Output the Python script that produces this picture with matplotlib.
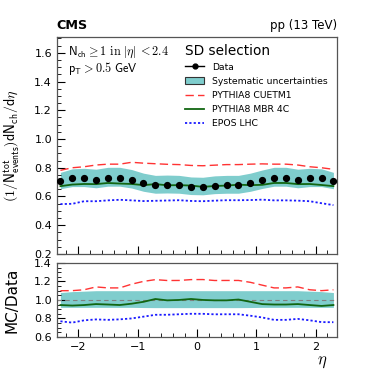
import numpy as np
import matplotlib
matplotlib.use("Agg")
import matplotlib.pyplot as plt
from matplotlib.lines import Line2D
from matplotlib.patches import Patch
from matplotlib.ticker import MultipleLocator

plt.rcParams['mathtext.fontset'] = 'cm'
plt.rcParams['font.family'] = ['DejaVu Sans']

eta = [-2.3, -2.1, -1.9, -1.7, -1.5, -1.3, -1.1, -0.9, -0.7, -0.5, -0.3, -0.1,
       0.1, 0.3, 0.5, 0.7, 0.9, 1.1, 1.3, 1.5, 1.7, 1.9, 2.1, 2.3]
data = [0.711, 0.727, 0.727, 0.718, 0.730, 0.730, 0.716, 0.693, 0.679, 0.681, 0.679, 0.669,
        0.667, 0.676, 0.679, 0.679, 0.693, 0.713, 0.730, 0.730, 0.718, 0.727, 0.727, 0.711]
syst_up = [1.08, 1.09, 1.095, 1.10, 1.10, 1.10, 1.10, 1.10, 1.10, 1.10, 1.10, 1.10,
           1.10, 1.10, 1.10, 1.10, 1.10, 1.10, 1.10, 1.10, 1.10, 1.095, 1.09, 1.08]
syst_dn = [0.92, 0.92, 0.92, 0.92, 0.92, 0.92, 0.92, 0.918, 0.917, 0.917, 0.917, 0.917,
           0.917, 0.917, 0.917, 0.917, 0.918, 0.92, 0.92, 0.92, 0.92, 0.92, 0.92, 0.92]
cuetm1 = [0.782, 0.800, 0.807, 0.819, 0.825, 0.825, 0.838, 0.832, 0.828, 0.824, 0.822, 0.816,
          0.814, 0.818, 0.822, 0.822, 0.825, 0.827, 0.825, 0.825, 0.819, 0.807, 0.800, 0.789]
mbr4c = [0.672, 0.683, 0.687, 0.686, 0.694, 0.690, 0.687, 0.679, 0.686, 0.678, 0.679, 0.676,
         0.667, 0.673, 0.676, 0.682, 0.679, 0.681, 0.694, 0.694, 0.686, 0.687, 0.680, 0.672]
epos = [0.547, 0.549, 0.567, 0.567, 0.573, 0.577, 0.573, 0.568, 0.570, 0.572, 0.574, 0.569,
        0.567, 0.571, 0.574, 0.574, 0.575, 0.578, 0.573, 0.573, 0.571, 0.567, 0.553, 0.540]

x = np.array(eta)
d = np.array(data)
up = np.array(syst_up)
dn = np.array(syst_dn)

c_band = '#7fcdcd'
c_red = '#ff3333'
c_green = '#116611'
c_blue = '#1a1aff'

fig = plt.figure(figsize=(3.74, 3.74), dpi=100)
ax = fig.add_axes([0.152, 0.321, 0.749, 0.580])
axr = fig.add_axes([0.152, 0.099, 0.749, 0.198])

# main panel
ax.fill_between(x, d * dn, d * up, color=c_band, lw=0, zorder=1)
ax.plot(x, cuetm1, color=c_red, ls=(0, (6, 3)), lw=1.0, zorder=2)
ax.plot(x, mbr4c, color=c_green, ls='-', lw=1.3, zorder=2)
ax.plot(x, epos, color=c_blue, ls=(0, (1.2, 1.2)), lw=1.3, zorder=2)
ax.plot(x, d, 'o', color='black', ms=4.2, zorder=3)

ax.set_xlim(-2.36, 2.36)
ax.set_ylim(0.2, 1.71)
ax.set_xticklabels([])

# ratio panel
axr.fill_between(x, dn, up, color=c_band, lw=0, zorder=1)
axr.axhline(1.0, color='gray', ls=(0, (4, 3)), lw=0.8, zorder=2)
axr.plot(x, np.array(cuetm1) / d, color=c_red, ls=(0, (6, 3)), lw=1.0, zorder=3)
axr.plot(x, np.array(mbr4c) / d, color=c_green, ls='-', lw=1.3, zorder=3)
axr.plot(x, np.array(epos) / d, color=c_blue, ls=(0, (1.2, 1.2)), lw=1.3, zorder=3)
axr.set_xlim(-2.36, 2.36)
axr.set_ylim(0.6, 1.4)

for a in (ax, axr):
    a.tick_params(which='both', direction='in', top=False, right=False, labelsize=8)
    a.tick_params(which='major', length=6)
    a.tick_params(which='minor', length=3)
    a.xaxis.set_major_locator(MultipleLocator(1))
    a.xaxis.set_minor_locator(MultipleLocator(0.2))
    a.yaxis.set_major_locator(MultipleLocator(0.2))
    a.yaxis.set_minor_locator(MultipleLocator(0.05))
    for s in a.spines.values():
        s.set_color('#555555')
        s.set_linewidth(0.9)

ax.set_ylabel(r'$(1/\mathsf{N}^{\mathsf{tot}}_{\mathsf{events}})\mathsf{dN}_{\mathsf{ch}}/\mathsf{d}\eta$',
              fontsize=10)
ax.yaxis.set_label_coords(-0.125, 0.5)
axr.set_ylabel('MC/Data', fontsize=11)
axr.yaxis.set_label_coords(-0.135, 0.5)
fig.text(0.862, 0.028, r'$\eta$', fontsize=12, ha='center')

fig.text(0.152, 0.915, 'CMS', fontsize=9.2, fontweight='bold', ha='left', va='bottom')
fig.text(0.901, 0.915, 'pp (13 TeV)', fontsize=8.5, ha='right', va='bottom')

ax.text(0.04, 0.965, r'$\mathsf{N}_{\mathsf{ch}}\geq 1\ \mathrm{in}\ |\eta|\,<2.4$',
        transform=ax.transAxes, fontsize=8.8, va='top')
ax.text(0.04, 0.896, r'$\mathsf{p}_{\mathsf{T}}>0.5\ \mathsf{GeV}$',
        transform=ax.transAxes, fontsize=8.8, va='top')

handles = [
    Line2D([], [], color='black', marker='o', ms=3.5, lw=1.0),
    Patch(facecolor=c_band, edgecolor='#333333', lw=0.8),
    Line2D([], [], color=c_red, ls=(0, (6, 3)), lw=1.0),
    Line2D([], [], color=c_green, ls='-', lw=1.3),
    Line2D([], [], color=c_blue, ls=(0, (1.2, 1.2)), lw=1.3),
]
labels = ['Data', 'Systematic uncertainties', 'PYTHIA8 CUETM1', 'PYTHIA8 MBR 4C', 'EPOS LHC']
leg = ax.legend(handles, labels, loc='upper left', bbox_to_anchor=(0.435, 1.0),
                frameon=False, fontsize=6.7, title='SD selection', title_fontsize=9.8,
                handlelength=2.0, handletextpad=0.85, labelspacing=0.55, borderaxespad=0.3)
leg._legend_box.align = 'left'

fig.savefig('out.png', dpi=100)
